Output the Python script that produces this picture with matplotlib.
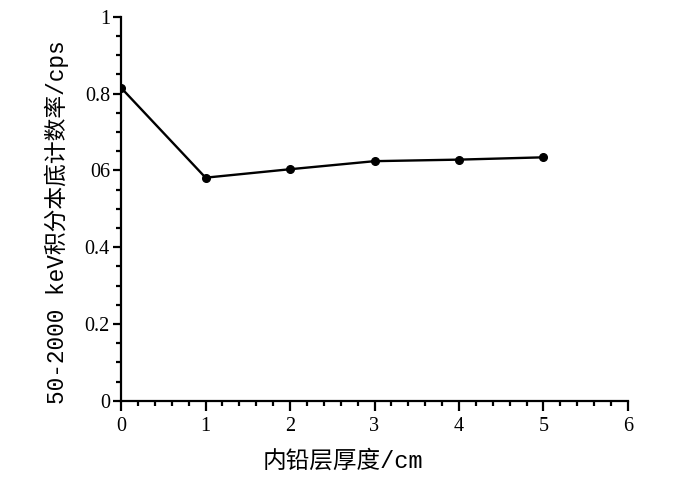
import matplotlib
matplotlib.use("Agg")
import matplotlib.pyplot as plt
from matplotlib.ticker import FixedLocator, FixedFormatter, MultipleLocator

# data
thickness = [0, 1, 2, 3, 4, 5]
rate = [0.815, 0.581, 0.603, 0.624, 0.628, 0.634]
y_ticks = [0, 0.2, 0.4, 0.6, 0.8, 1.0]
y_tick_labels = ["0", "0.2", "0.4", "06", "0.8", "1"]

fonts = ["Liberation Mono", "Noto Sans CJK SC", "DejaVu Sans"]
tick_fonts = ["Liberation Serif", "DejaVu Sans"]

fig = plt.figure(figsize=(7.0, 4.93), dpi=100)
ax = fig.add_axes([0.173, 0.187, 0.724, 0.779])

ax.plot(thickness, rate, color="black", linewidth=1.7, marker="o", markersize=5.5)

ax.set_xlim(0, 6)
ax.set_ylim(0, 1)
ax.xaxis.set_major_locator(MultipleLocator(1))
ax.xaxis.set_minor_locator(MultipleLocator(0.2))
ax.yaxis.set_major_locator(FixedLocator(y_ticks))
ax.yaxis.set_major_formatter(FixedFormatter(y_tick_labels))
ax.yaxis.set_minor_locator(MultipleLocator(0.05))

for side in ["top", "right"]:
    ax.spines[side].set_visible(False)
for side in ["left", "bottom"]:
    ax.spines[side].set_linewidth(1.6)

ax.tick_params(which="major", direction="out", length=6, width=1.6)
ax.tick_params(which="minor", direction="out", length=3.8, width=1.6)
ax.tick_params(axis="x", which="major", length=7.5, pad=4)
ax.tick_params(axis="y", which="major", pad=2)
for lab in ax.get_xticklabels() + ax.get_yticklabels():
    lab.set_family(tick_fonts)
    lab.set_fontsize(14.5)

ax.set_xlabel("内铅层厚度/cm", family=fonts, fontsize=17)
ax.set_ylabel("50-2000 keV积分本底计数率/cps", family=fonts, fontsize=16.4)
ax.xaxis.set_label_coords(0.438, -0.128)
ax.yaxis.set_label_coords(-0.102, 0.464)

fig.savefig("out.png", dpi=100)
